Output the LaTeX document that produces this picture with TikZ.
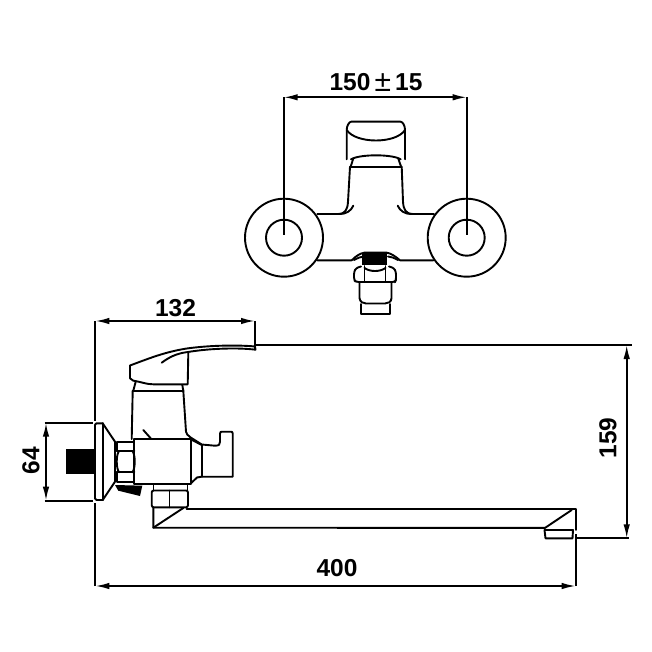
\documentclass[tikz,border=0pt]{standalone}
\usepackage{fontspec}
\setmainfont{Liberation Sans}
\usetikzlibrary{arrows.meta}
\tikzset{
  part/.style={line width=1.9pt,line cap=round,line join=round},
  dimline/.style={line width=1.8pt,{Latex[length=14pt,width=6.5pt]}-{Latex[length=14pt,width=6.5pt]}},
  extline/.style={line width=1.8pt},
  dimtext/.style={font=\fontsize{24.5}{26}\selectfont\bfseries,inner sep=0pt}
}
\begin{document}
\begin{tikzpicture}[x=1pt,y=-1pt]
\useasboundingbox (0,0) rectangle (652,652);
\fill[white] (0,0) rectangle (652,652);
% ---- top view
\draw[part] (284,237.7) circle (39);
\draw[part] (284,237.7) circle (18);
\draw[part] (466.7,237.7) circle (39);
\draw[part] (466.7,237.7) circle (18);
% handle
\draw[part] (346.7,159.3) -- (346.7,130) .. controls (346.7,126) and (349,122) .. (351,121.7) -- (400.7,121.7) .. controls (403,122) and (405,126) .. (405,130) -- (405,159.3);
\draw[part] (346.7,130) .. controls (356,144) and (396,144) .. (405,130);
\draw[part] (351,159.3) .. controls (360,154) and (392,154) .. (400.7,159.3);
\draw[part] (353.3,158.5) -- (350.7,166.5);
\draw[part] (398.3,158.5) -- (401,166.5);
\draw[part] (350,166.7) -- (401.7,166.7);
% body
\draw[part] (350,166.7) -- (348,201.7) .. controls (347.5,210) and (345,214) .. (338,214) -- (317.3,214);
\draw[part] (401.7,166.7) -- (403,201.7) .. controls (403.5,210) and (406,214) .. (413,214) -- (434,214);
\draw[part] (353.3,205.7) .. controls (351,211) and (346,214) .. (340,214);
\draw[part] (397.7,205.7) .. controls (400,211) and (405,214) .. (411,214);
\draw[part] (317.3,260.3) -- (351.7,260.3) .. controls (356,256) and (360,253.3) .. (365,252.5) -- (386,252.5) .. controls (391,253.3) and (395,256) .. (400,260.3) -- (433.3,260.3);
\draw[part] (354,260) .. controls (358,258) and (361,256.5) .. (364,256.5);
\draw[part] (398,260) .. controls (394,258) and (391,256.5) .. (388,256.5);
\fill (362.3,253) -- (386.7,253) -- (386.7,265) -- (362.3,265) -- cycle;
% nut and tail
\draw[part,rounded corners=2.5pt] (361,266.5) -- (356,268) -- (354,272) -- (354,280) -- (356,282) -- (395,282) -- (396,280) -- (396,272) -- (394,268) -- (389,266.5);
\draw[part] (364.5,266) -- (364.5,282);
\draw[part] (385.5,266) -- (385.5,282);
\draw[part] (364.5,268) .. controls (370,272) and (380,272) .. (385.5,268);
\draw[part] (359.5,283) -- (359.5,298) .. controls (360,302) and (363,303.5) .. (366,303.5) -- (385,303.5) .. controls (388,303.5) and (391.5,302) .. (391.5,298) -- (391.5,283);
\draw[part] (360.7,304) -- (360.7,314) -- (390,314) -- (390,304);
% dim 150 +- 15
\coordinate (a1) at (283.7,97.3);
\coordinate (a2) at (466.7,97.3);
\coordinate (a1e) at (283.7,235);
\coordinate (a2e) at (466.7,235);
\draw[extline] (a1) -- (a1e);
\draw[extline] (a2) -- (a2e);
\draw[dimline] (a1) -- (a2);
\node[dimtext] (t150) at (376,82.5) {150\,{\fontsize{30}{30}\selectfont\mdseries\raisebox{-1.5pt}{±}}\,15};
% ---- side view
% handle
\draw[part] (255,346.5) .. controls (240,345) and (212,345) .. (186.7,348.5) .. controls (165,352) and (150,358) .. (130,365.5) -- (130,378.3) -- (133.3,380.7) .. controls (142,382) and (146,384.3) .. (153.3,384.3) -- (187.7,384.3) -- (188.3,353.3);
\draw[part] (255,346.5) -- (255.5,349.7) .. controls (240,347.7) and (212,348) .. (188,352) .. controls (180,353) and (172,355) .. (161.7,362.7);
\draw[part] (135.7,381.7) -- (133.3,390.7);
\draw[part] (182.3,385) -- (183.3,390.7);
\draw[part] (133,390.7) -- (183.3,390.7);
\draw[part] (132.7,390.7) -- (131.7,439);
\draw[part] (183.3,390.7) -- (186,431.7) .. controls (186.5,436) and (192,438) .. (201.7,444.5) -- (215,445.7) .. controls (219,445.7) and (220,444.5) .. (220,442) -- (220,433.5) .. controls (220,432) and (221,431.7) .. (222,431.7) -- (231,431.7) .. controls (232,431.7) and (232.7,432) .. (232.7,433.5) -- (232.7,476.7) -- (201.7,476.7) -- (197,477.5) -- (190.7,483.5);
\draw[part] (201.7,445) -- (201.7,476.7);
\draw[part] (190.7,439.3) -- (201.7,445);
\draw[part] (143.3,430) -- (150.7,438.3);
% main box
\draw[part] (134.3,439.3) rectangle (190.7,484);
% horizontal nut
\draw[part] (116.7,441.7) rectangle (134.3,481.7);
\fill[white] (114,451) rectangle (136,472.3);
\draw[part] (116.7,451) -- (134.3,451);
\draw[part] (116.7,472.3) -- (134.3,472.3);
\draw[part] (119,451) .. controls (116,455) and (116,468) .. (119,472.3);
\draw[part] (132.5,451) .. controls (135.5,455) and (135.5,468) .. (132.5,472.3);
\draw[part] (134.3,441.7) -- (134.3,481.7);
% wedge
\fill (115,485) -- (142.3,485.7) -- (140,496) -- (118.3,490.7) -- cycle;
% escutcheon
\draw[part,rounded corners=1.5pt] (102.7,423.3) -- (95,423.3) -- (95,500) -- (102.7,500);
\draw[part] (102.7,423.3) -- (102.7,500);
\draw[part] (102.7,423.3) -- (115,441.7) -- (115,481.7) -- (102.7,500);
% stud
\fill (65.7,449) -- (94,449) -- (94,474) -- (65.7,474) -- cycle;
% lower nuts
\draw[part] (153.5,485) -- (153.5,490.5);
\draw[part] (187.5,485) -- (187.5,490.5);
\draw[part,rounded corners=2pt] (151.7,490.5) -- (151.7,507.3) -- (188,507.3) -- (188,490.5) -- cycle;
\draw[part] (169.5,490.5) -- (169.5,507.3);
% spout
\draw[part] (153.3,507.5) -- (153.3,527.7) -- (545,527.9);
\draw[part] (153.3,527.7) -- (183.3,508);
\draw[part] (186.7,509.3) -- (575.7,509.3) -- (575.7,530);
\draw[part] (545,527.9) -- (571.7,510);
\draw[part] (544.5,530) -- (573,530) -- (572.5,538.3) -- (545.5,538.3) -- cycle;
% dim 132
\coordinate (b1) at (95.3,321);
\coordinate (b2) at (255,321);
\coordinate (b2e) at (255,349);
\coordinate (b1e) at (95.3,421);
\draw[extline] (b1) -- (b1e);
\draw[extline] (b2) -- (b2e);
\draw[dimline] (b1) -- (b2);
\node[dimtext] (t132) at (175.5,308) {132};
% dim 159
\coordinate (c0) at (255,345);
\coordinate (c1) at (626.7,345);
\coordinate (c1x) at (632,345);
\coordinate (c2) at (626.7,538.3);
\coordinate (c2x) at (628.5,538.3);
\coordinate (c0b) at (575,538.3);
\draw[extline] (c0) -- (c1x);
\draw[extline] (c0b) -- (c2x);
\draw[dimline] (c1) -- (c2);
\node[dimtext,rotate=90] (t159) at (608,438) {159};
% dim 64
\coordinate (d1) at (46,422.7);
\coordinate (d2) at (46,500.7);
\coordinate (d1e) at (93,422.7);
\coordinate (d2e) at (93,500.7);
\coordinate (d1x) at (44.5,422.7);
\coordinate (d2x) at (44.5,500.7);
\draw[extline] (d1x) -- (d1e);
\draw[extline] (d2x) -- (d2e);
\draw[dimline] (d1) -- (d2);
\node[dimtext,rotate=90] (t64) at (31,460.5) {64};
% dim 400
\coordinate (e1) at (95.3,586);
\coordinate (e2) at (575.7,586);
\coordinate (e1e) at (95.3,503);
\coordinate (e2e) at (575.7,534);
\draw[extline] (e1) -- (e1e);
\draw[extline] (e2) -- (e2e);
\draw[dimline] (e1) -- (e2);
\node[dimtext] (t400) at (337,568) {400};
\end{tikzpicture}
\end{document}
